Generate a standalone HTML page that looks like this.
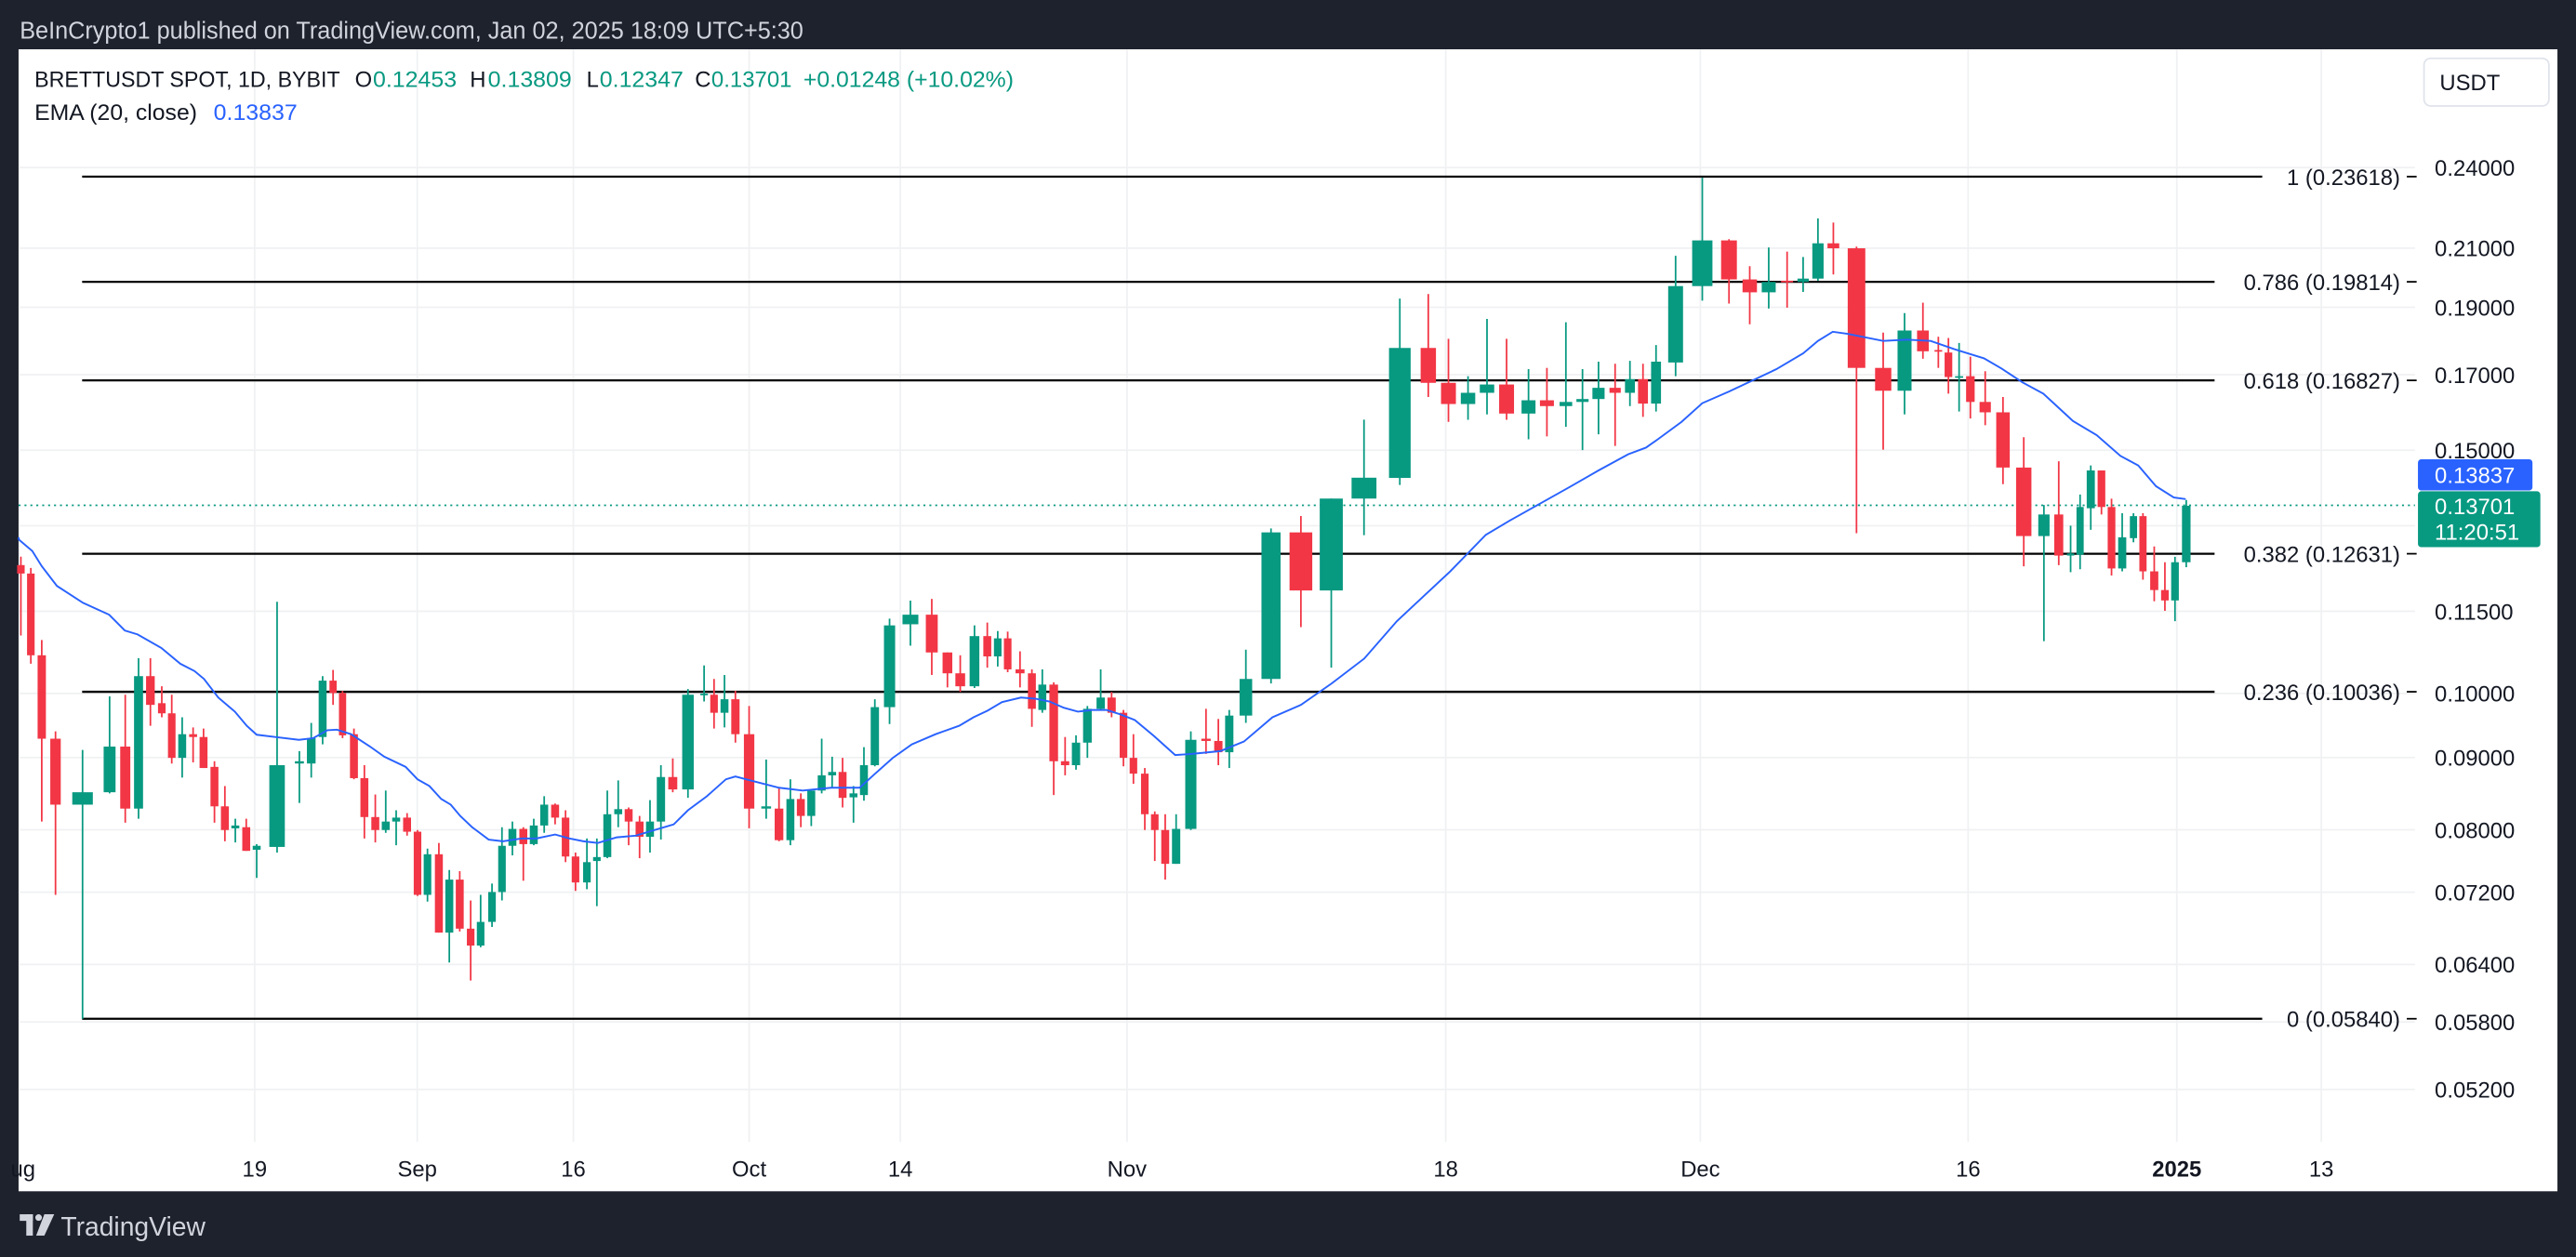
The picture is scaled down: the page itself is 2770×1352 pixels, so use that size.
<!DOCTYPE html>
<html><head><meta charset="utf-8"><style>
html,body{margin:0;padding:0;background:#1e222d;}
svg{display:block;}
text{font-family:"Liberation Sans",sans-serif;}
</style></head><body>
<svg id="s" xmlns="http://www.w3.org/2000/svg" width="2770" height="1352" viewBox="0 0 1568 765" preserveAspectRatio="none">
<rect x="0" y="0" width="1568" height="765" fill="#1e222d"/>
<rect x="11.3" y="30" width="1545.4" height="695" fill="#ffffff"/>
<text x="12" y="23.5" font-size="14.5" fill="#d1d4dc" textLength="477" lengthAdjust="spacingAndGlyphs">BeInCrypto1 published on TradingView.com, Jan 02, 2025 18:09 UTC+5:30</text>
<g id="grid" stroke="#f0f1f3" stroke-width="1"></g>
<g id="fib" stroke="#000" stroke-width="1.3"></g>
<line x1="11.3" y1="307.5" x2="1470" y2="307.5" stroke="#089981" stroke-width="1" stroke-dasharray="1.2,2.4"/>
<g id="candles"></g>
<polyline id="ema" fill="none" stroke="#2962ff" stroke-width="1.1"/>
<g font-size="13.5" fill="#131722" id="fibtxt"></g>
<g font-size="13.5" fill="#131722" id="ptxt"></g>
<rect x="1475.5" y="35.5" width="76" height="29" rx="4" fill="#fff" stroke="#e0e3eb"/>
<text x="1485" y="55" font-size="13.5" fill="#131722">USDT</text>
<rect x="1471.8" y="279.5" width="69.7" height="19" rx="2" fill="#2962ff"/>
<text x="1482" y="294" font-size="13.5" fill="#fff">0.13837</text>
<rect x="1471.8" y="299" width="74.5" height="34" rx="2" fill="#089981"/>
<text x="1482" y="313" font-size="13.5" fill="#fff">0.13701</text>
<text x="1482" y="328.5" font-size="13.5" fill="#fff">11:20:51</text>
<g font-size="13.5" fill="#131722">
<text x="21" y="53" textLength="186" lengthAdjust="spacingAndGlyphs">BRETTUSDT SPOT, 1D, BYBIT</text>
<text x="216" y="53">O</text><text x="227" y="53" fill="#089981" textLength="51" lengthAdjust="spacingAndGlyphs">0.12453</text>
<text x="286" y="53">H</text><text x="297" y="53" fill="#089981" textLength="51" lengthAdjust="spacingAndGlyphs">0.13809</text>
<text x="357" y="53">L</text><text x="365" y="53" fill="#089981" textLength="51" lengthAdjust="spacingAndGlyphs">0.12347</text>
<text x="423" y="53">C</text><text x="433" y="53" fill="#089981" textLength="49" lengthAdjust="spacingAndGlyphs">0.13701</text>
<text x="489" y="53" fill="#089981" textLength="128" lengthAdjust="spacingAndGlyphs">+0.01248 (+10.02%)</text>
<text x="21" y="73" textLength="99" lengthAdjust="spacingAndGlyphs">EMA (20, close)</text>
<text x="130" y="73" fill="#2962ff" textLength="51" lengthAdjust="spacingAndGlyphs">0.13837</text>
</g>
<g font-size="13.5" fill="#131722" text-anchor="middle" id="ttxt"></g>
<g fill="#d1d4dc"><rect x="12" y="739" width="8" height="4"/><rect x="16" y="739" width="4" height="13"/><circle cx="23.5" cy="741" r="2"/><polygon points="27,739 33,739 27,752 22,752"/></g>
<text x="37" y="752" font-size="16" fill="#d1d4dc">TradingView</text>
</svg>
<script>
var NS="http://www.w3.org/2000/svg";
function el(p,t,a,txt){var e=document.createElementNS(NS,t);for(var k in a)e.setAttribute(k,a[k]);if(txt!==undefined)e.textContent=txt;document.getElementById(p).appendChild(e);return e;}
[102,151,187,228,274,320,372,422,461,505,543,587,622,663].forEach(function(y){el("grid","line",{x1:11.3,y1:y,x2:1470,y2:y});});
[155,254,349,456,548,686,880,1035,1198,1325,1413].forEach(function(x){el("grid","line",{x1:x,y1:30,x2:x,y2:695});});
var fibs=[[107.5,"1 (0.23618)",1377],[171.5,"0.786 (0.19814)",1348],[231.5,"0.618 (0.16827)",1348],[337,"0.382 (0.12631)",1348],[421,"0.236 (0.10036)",1348],[620,"0 (0.05840)",1377]];
fibs.forEach(function(f){el("fib","line",{x1:50,y1:f[0],x2:f[2],y2:f[0]});el("fibtxt","text",{x:1461,y:f[0]+5,"text-anchor":"end"},f[1]);el("fib","line",{x1:1465,y1:f[0],x2:1471,y2:f[0],"stroke-width":1});});
var pt=[[102,"0.24000"],[151,"0.21000"],[187,"0.19000"],[228,"0.17000"],[274,"0.15000"],[372,"0.11500"],[422,"0.10000"],[461,"0.09000"],[505,"0.08000"],[543,"0.07200"],[587,"0.06400"],[622,"0.05800"],[663,"0.05200"]];
pt.forEach(function(p){el("ptxt","text",{x:1482,y:p[0]+5},p[1]);});
var tt=[[14,"ug"],[155,"19"],[254,"Sep"],[349,"16"],[456,"Oct"],[548,"14"],[686,"Nov"],[880,"18"],[1035,"Dec"],[1198,"16"],[1325,"2025"],[1413,"13"]];
tt.forEach(function(t){var e=el("ttxt","text",{x:t[0],y:716},t[1]);if(t[1]=="2025")e.setAttribute("font-weight","bold");});
function T1(c){return [c[0]/3.4626,84.9+c[1]/2.915,84.9+c[2]/2.915,84.9+c[3]/2.915,84.9+c[4]/2.915,c[5]];}
function T2(c){return [396.2+c[0]/3.4626,84.9+c[1]/2.915,84.9+c[2]/2.915,84.9+c[3]/2.915,84.9+c[4]/2.915,c[5]];}
function T3(c){return [792.5+c[0]/2.770,84.9+c[1]/3.957,84.9+c[2]/3.957,84.9+c[3]/3.957,84.9+c[4]/3.957,c[5]];}
var z1=[[44,755,770,740,880,'R'],[65,770,915,760,930,'R'],[88,915,1063,888,1210,'R'],[117,1063,1180,1050,1340,'R'],[174,1158,1180,1083,1560,'G'],[231,1077,1158,988,1160,'G'],[264,1077,1187,985,1212,'R'],[292,952,1187,920,1205,'G'],[317,952,1003,920,1040,'R'],[341,1000,1018,970,1025,'R'],[362,1018,1097,985,1107,'R'],[384,1055,1097,1025,1132,'G'],[407,1055,1060,1043,1105,'R'],[429,1060,1115,1045,1115,'R'],[452,1113,1183,1103,1212,'R'],[474,1183,1225,1147,1245,'R'],[496,1217,1222,1205,1247,'G'],[519,1220,1262,1205,1262,'R'],[541,1253,1260,1250,1310,'G'],[584,1110,1255,820,1265,'G'],[631,1103,1107,1085,1177,'G'],[656,1062,1107,1035,1132,'G'],[680,960,1060,952,1073,'G'],[702,960,982,941,1003,'R'],[722,982,1057,978,1062,'R'],[746,1055,1133,1045,1135,'R'],[768,1133,1202,1110,1240,'R'],[791,1202,1225,1162,1247,'R'],[813,1210,1225,1155,1230,'G'],[835,1203,1210,1190,1252,'G'],[858,1203,1228,1195,1235,'R'],[880,1228,1340,1225,1342,'R'],[901,1268,1340,1258,1352,'G'],[925,1268,1407,1248,1407,'R'],[947,1313,1407,1296,1460,'G'],[969,1313,1400,1298,1405,'R'],[992,1400,1430,1350,1492,'R'],[1013,1388,1430,1340,1433,'G'],[1037,1335,1388,1320,1397,'G'],[1058,1253,1335,1220,1350,'G'],[1080,1223,1253,1210,1270,'G'],[1103,1223,1250,1220,1315,'R'],[1125,1217,1250,1205,1252,'G'],[1147,1180,1217,1165,1230,'G'],[1170,1180,1203,1178,1215,'R'],[1192,1203,1272,1190,1282,'R'],[1213,1272,1318,1265,1333,'R'],[1237,1282,1318,1240,1330,'G'],[1258,1273,1280,1240,1360,'G'],[1280,1197,1273,1155,1275,'G'],[1303,1188,1197,1137,1220,'G'],[1325,1188,1210,1185,1252,'R'],[1348,1210,1237,1200,1275,'R'],[1370,1210,1237,1172,1265,'G'],[1393,1131,1210,1110,1242,'G'],[1418,1131,1153,1098,1158,'R'],[1450,985,1153,975,1168,'G'],[1484,983,985,933,997,'G'],[1505,985,1017,957,1045,'R'],[1527,993,1017,950,1043,'G'],[1550,993,1055,978,1070,'R']];
var z2=[[207,1055,1187,1005,1222,'R'],[243,1183,1187,1100,1205,'G'],[270,1187,1243,1150,1245,'R'],[294,1170,1243,1135,1252,'G'],[316,1170,1200,1160,1220,'R'],[338,1155,1200,1155,1218,'G'],[360,1128,1155,1063,1160,'G'],[382,1122,1128,1095,1150,'G'],[404,1122,1168,1097,1185,'R'],[427,1160,1167,1147,1212,'G'],[449,1110,1163,1078,1173,'G'],[472,1007,1110,993,1112,'G'],[503,862,1007,850,1037,'G'],[547,843,860,818,898,'G'],[592,843,910,815,950,'R'],[625,910,947,910,972,'R'],[652,947,970,915,980,'R'],[682,881,970,862,973,'G'],[709,881,917,857,937,'R'],[731,885,917,872,935,'G'],[752,885,940,873,945,'R'],[778,940,947,908,972,'R'],[803,947,1010,940,1042,'R'],[825,967,1012,940,1017,'G'],[849,967,1103,963,1163,'R'],[873,1103,1110,1060,1128,'R'],[896,1070,1110,1057,1118,'G'],[920,1010,1070,1005,1097,'G'],[948,990,1010,940,1012,'G'],[971,990,1017,980,1025,'R'],[996,1017,1097,1012,1112,'R'],[1017,1097,1125,1055,1143,'R'],[1041,1125,1197,1115,1225,'R'],[1062,1197,1225,1192,1280,'R'],[1084,1225,1285,1197,1313,'R'],[1107,1223,1285,1197,1285,'G'],[1138,1065,1223,1050,1225,'G'],[1170,1063,1067,1010,1090,'R'],[1196,1067,1087,1028,1110,'R'],[1219,1022,1087,1012,1115,'G'],[1254,957,1022,905,1035,'G'],[1307,697,957,690,965,'G'],[1370,697,800,668,865,'R'],[1434,637,800,637,937,'G'],[1503,600,637,497,702,'G']];
var z3=[[165,502,815,383,832,'G'],[213,502,586,372,620,'R'],[247,586,637,480,680,'R'],[280,610,637,570,675,'G'],[312,590,610,432,662,'G'],[345,590,660,480,675,'R'],[382,628,660,553,722,'G'],[413,628,642,550,715,'R'],[445,632,642,440,692,'G'],[473,625,632,553,748,'G'],[500,598,625,535,710,'G'],[528,598,610,540,738,'R'],[553,577,610,533,642,'G'],[575,577,636,540,668,'R'],[597,535,636,495,655,'G'],[630,353,537,280,570,'G'],[675,243,353,92,388,'G'],[720,243,337,240,395,'R'],[755,337,368,305,445,'R'],[787,343,368,260,407,'G'],[818,340,343,270,405,'R'],[845,335,343,283,367,'G'],[870,250,335,190,340,'G'],[896,250,262,200,325,'R'],[935,262,550,258,948,'R'],[980,550,605,465,747,'R'],[1016,460,605,418,662,'G'],[1047,460,510,393,528,'R'],[1073,507,510,475,550,'R'],[1090,513,572,478,612,'R'],[1108,570,573,490,655,'G'],[1127,570,632,523,672,'R'],[1152,632,657,558,688,'R'],[1182,657,790,620,830,'R'],[1217,790,955,717,1028,'R'],[1251,903,955,880,1208,'G'],[1276,903,1002,775,1025,'R'],[1296,997,1002,930,1042,'G'],[1312,885,1000,855,1035,'G'],[1330,797,888,785,940,'G'],[1348,797,885,797,903,'R'],[1365,885,1033,865,1050,'R'],[1383,958,1033,900,1040,'G'],[1402,907,960,900,970,'G'],[1418,907,1040,900,1060,'R'],[1437,1040,1085,980,1112,'R'],[1455,1085,1110,1018,1135,'R'],[1472,1018,1110,1005,1160,'G'],[1491,882,1018,868,1030,'G']];
var C=z1.map(T1).concat(z2.map(T2)).concat(z3.map(T3));
for(var i=0;i<C.length;i++){var c=C[i];var g1=i>0?c[0]-C[i-1][0]:99,g2=i<C.length-1?C[i+1][0]-c[0]:99;var g=Math.min(g1,g2);var w=Math.max(2,g*0.76);
var col=c[5]=='G'?'#089981':'#f23645';
el("candles","line",{x1:c[0],y1:c[3],x2:c[0],y2:c[4],stroke:col,"stroke-width":1});
var h=Math.max(1,c[2]-c[1]);el("candles","rect",{x:c[0]-w/2,y:c[1],width:w,height:h,fill:col});}
var e1=[[40,710],[68,730],[88,757],[120,792],[175,822],[230,843],[263,871],[290,878],[340,902],[380,930],[410,943],[430,957],[460,990],[495,1015],[520,1040],[541,1056],[580,1060],[630,1065],[660,1062],[690,1048],[710,1047],[740,1055],[780,1077],[810,1095],[855,1113],[880,1135],[905,1147],[930,1170],[950,1180],[970,1200],[995,1220],[1030,1242],[1060,1245],[1100,1240],[1130,1240],[1170,1233],[1200,1240],[1230,1245],[1260,1248],[1300,1238],[1340,1235],[1380,1225],[1420,1215],[1450,1190],[1490,1165],[1530,1135],[1550,1130]];
var e2=[[210,1137],[270,1150],[320,1155],[380,1150],[440,1150],[470,1127],[510,1097],[550,1073],[600,1055],[650,1040],[680,1025],[710,1013],[740,998],[780,990],[810,992],[840,997],[870,1008],[900,1015],[930,1012],[960,1012],[990,1020],[1020,1030],[1060,1058],[1105,1092],[1140,1090],[1200,1085],[1250,1068],[1310,1025],[1370,1003]];
var e3=[[50,1310],[105,1250],[160,1160],[205,1100],[250,1040],[310,952],[350,918],[400,878],[450,838],[500,797],[550,758],[580,742],[600,722],[640,680],[675,635],[720,607],[760,580],[800,553],[845,515],[870,485],[895,463],[920,468],[980,485],[1020,482],[1060,485],[1100,505],[1150,527],[1180,552],[1215,585],[1250,612],[1275,645],[1300,678],[1340,712],[1380,762],[1410,785],[1440,835],[1470,862],[1490,866]];
var pts=[[11.3,327]];
e1.forEach(function(p){pts.push([p[0]/3.4626,84.9+p[1]/2.915]);});
e2.forEach(function(p){pts.push([396.2+p[0]/3.4626,84.9+p[1]/2.915]);});
e3.forEach(function(p){pts.push([792.5+p[0]/2.770,84.9+p[1]/3.957]);});
document.getElementById("ema").setAttribute("points",pts.map(function(p){return p[0].toFixed(2)+","+p[1].toFixed(2);}).join(" "));
</script>
</body></html>
